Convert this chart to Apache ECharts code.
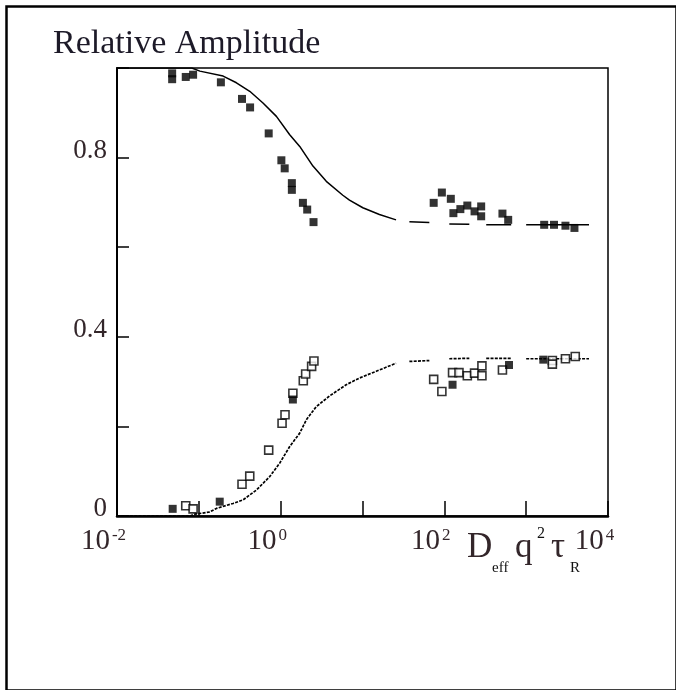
<!DOCTYPE html>
<html>
<head>
<meta charset="utf-8">
<script src="https://cdn.jsdelivr.net/npm/echarts@6/dist/echarts.min.js"></script>
<style>
html,body{margin:0;padding:0;background:#fff;}
#chart{width:676px;height:690px;}
</style>
</head>
<body>
<div id="chart"></div>
<script>
// ---- data ----
// upper fitted curve [x, amplitude]; '-' marks a gap in the drawn line
var upperCurve = [
  [0.01, 1.0], [0.082, 1.0], [0.103, 0.993], [0.198, 0.982], [0.288, 0.967],
  [0.419, 0.948], [0.608, 0.922], [0.887, 0.892], [1.29, 0.851], [1.71, 0.825],
  [2.48, 0.781], [3.61, 0.747], [5.75, 0.716], [6.93, 0.705], [10.1, 0.688],
  [16.1, 0.673], [25.7, 0.661], [30, '-'],
  [37.4, 0.657], [65.6, 0.655], [80, '-'],
  [115, 0.652], [202, 0.651], [250, '-'],
  [325, 0.650], [656, 0.650], [800, '-'],
  [1000, 0.650], [5860, 0.650]
];
// lower fitted curve
var lowerCurve = [
  [0.01, 0.0], [0.078, 0.0], [0.089, 0.004], [0.136, 0.009], [0.164, 0.017],
  [0.262, 0.028], [0.347, 0.036], [0.506, 0.058], [0.735, 0.088], [0.973, 0.118],
  [1.29, 0.155], [1.71, 0.185], [2.06, 0.215], [2.72, 0.244], [3.96, 0.268],
  [6.32, 0.293], [9.18, 0.308], [14.7, 0.323], [25.7, 0.341], [30, '-'],
  [37.4, 0.345], [65.6, 0.347], [80, '-'],
  [115, 0.351], [202, 0.352], [250, '-'],
  [325, 0.352], [656, 0.352], [800, '-'],
  [1000, 0.351], [5860, 0.351]
];
// measured points, upper branch (filled squares)
var upperFilled = [
  [0.0472, 0.988], [0.0472, 0.975], [0.0692, 0.980], [0.0851, 0.985], [0.186, 0.968],
  [0.337, 0.931], [0.423, 0.912], [0.714, 0.854], [1.02, 0.794], [1.12, 0.776],
  [1.37, 0.743], [1.37, 0.728], [1.87, 0.699], [2.11, 0.684], [2.52, 0.656],
  [74.1, 0.699], [93.3, 0.722], [120, 0.708], [129, 0.676], [157, 0.685],
  [191, 0.693], [234, 0.680], [282, 0.691], [282, 0.669], [513, 0.675],
  [603, 0.661], [1660, 0.650], [2190, 0.650], [3020, 0.648], [3890, 0.643]
];
// measured points, lower branch (filled squares)
var lowerFilled = [
  [0.0479, 0.016], [0.180, 0.032], [1.41, 0.260], [126, 0.293], [617, 0.337], [1620, 0.349]
];
// measured points, lower branch (open squares)
var lowerOpen = [
  [0.0692, 0.023], [0.0851, 0.016], [0.337, 0.071], [0.419, 0.089], [0.714, 0.147],
  [1.04, 0.207], [1.13, 0.226], [1.41, 0.274], [1.89, 0.302], [2.02, 0.317],
  [2.39, 0.334], [2.55, 0.346], [74.1, 0.305], [93.3, 0.278], [126, 0.320],
  [151, 0.320], [191, 0.313], [234, 0.319], [288, 0.335], [288, 0.313],
  [513, 0.326], [2090, 0.347], [2090, 0.339], [3020, 0.351], [3980, 0.356]
];
var yTickLabels = ['0', '0.4', '0.8'];
var xLabelExponents = [-2, 0, 2, 4];
var titleText = 'Relative Amplitude';

var FONT = '"Liberation Serif", "Times New Roman", serif';
var TXT = '#33262a';

var chart = echarts.init(document.getElementById('chart'), null, {renderer: 'canvas'});
var option = {
  backgroundColor: '#ffffff',
  animation: false,
  title: {
    text: titleText,
    left: 48, top: 22,
    textStyle: {fontFamily: FONT, fontSize: 34, fontWeight: 'normal', color: '#1d1a28'}
  },
  grid: {
    left: 117, right: 68, top: 68, bottom: 174,
    show: true, borderColor: '#000', borderWidth: 1.5, backgroundColor: 'transparent'
  },
  xAxis: {
    type: 'log', logBase: 10, min: 0.01, max: 10000,
    axisLine: {show: true, lineStyle: {color: '#000', width: 2.5}},
    axisTick: {show: true, inside: true, length: 15, lineStyle: {color: '#000', width: 1.5}},
    splitLine: {show: false},
    minorTick: {show: false},
    axisLabel: {
      margin: 11,
      showMinLabel: true, showMaxLabel: true,
      formatter: function (v) {
        var e = Math.round(Math.log(v) / Math.LN10);
        if (xLabelExponents.indexOf(e) < 0) return '';
        return '{b|10}{s|' + e + '}{p| }';
      },
      rich: {
        b: {fontFamily: FONT, fontSize: 29, color: TXT},
        s: {fontFamily: FONT, fontSize: 17, color: TXT, verticalAlign: 'top', padding: [0, 0, 0, 2]},
        p: {fontFamily: FONT, fontSize: 15, width: 27}
      }
    }
  },
  yAxis: {
    type: 'value', min: 0, max: 1, interval: 0.2,
    axisLine: {show: true, lineStyle: {color: '#000', width: 2}},
    axisTick: {show: true, inside: true, length: 12, lineStyle: {color: '#000', width: 1.5}},
    splitLine: {show: false},
    axisLabel: {
      margin: 10,
      fontFamily: FONT, fontSize: 27, color: TXT,
      verticalAlign: 'bottom', lineHeight: 14,
      formatter: function (v) {
        var s = String(Math.round(v * 10) / 10);
        return yTickLabels.indexOf(s) >= 0 ? s : '';
      }
    }
  },
  graphic: [
    {type: 'rect', left: 4, top: 4, shape: {width: 670, height: 684},
     style: {fill: 'none', stroke: '#000', lineWidth: 2.5}, silent: true, z: 100},
    {type: 'text', left: 467, top: 530, style: {text: 'D', font: '35px ' + FONT, fill: TXT}},
    {type: 'text', left: 492, top: 561, style: {text: 'eff', font: '15px ' + FONT, fill: '#111'}},
    {type: 'text', left: 515, top: 530, style: {text: 'q', font: '35px ' + FONT, fill: TXT}},
    {type: 'text', left: 537, top: 526, style: {text: '2', font: '16px ' + FONT, fill: '#111'}},
    {type: 'text', left: 551, top: 530, style: {text: 'τ', font: '35px ' + FONT, fill: TXT}},
    {type: 'text', left: 570, top: 561, style: {text: 'R', font: '15px ' + FONT, fill: '#111'}}
  ],
  series: [
    {type: 'line', data: upperCurve, showSymbol: false, connectNulls: false,
     lineStyle: {color: '#000', width: 1.5}, z: 2},
    {type: 'line', data: lowerCurve, showSymbol: false, connectNulls: false,
     lineStyle: {color: '#000', width: 1.7, type: [3, 1.3]}, z: 2},
    {type: 'scatter', data: upperFilled, symbol: 'rect', symbolSize: 8,
     itemStyle: {color: '#000'}, z: 3},
    {type: 'scatter', data: lowerOpen, symbol: 'rect', symbolSize: 8,
     itemStyle: {color: '#fff', borderColor: '#000', borderWidth: 1.6}, z: 3},
    {type: 'scatter', data: lowerFilled, symbol: 'rect', symbolSize: 8,
     itemStyle: {color: '#000'}, z: 4}
  ]
};
chart.setOption(option);
</script>
</body>
</html>
